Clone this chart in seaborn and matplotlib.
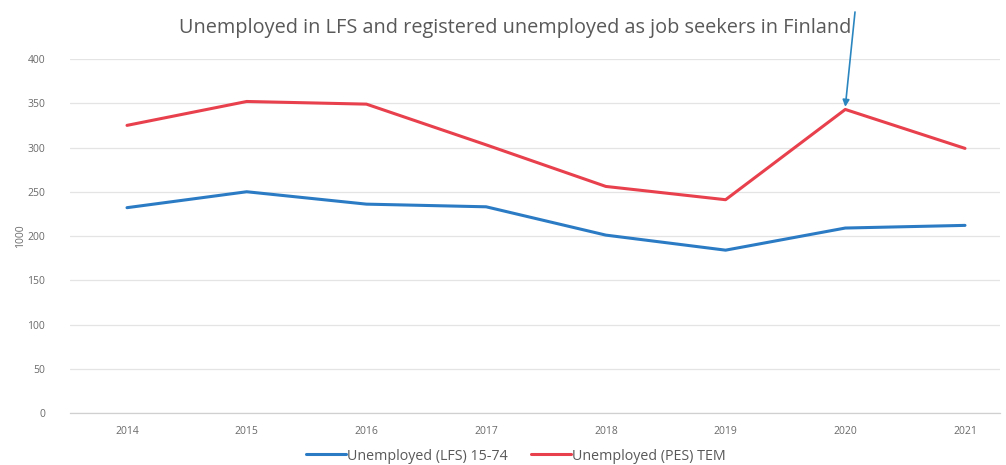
import matplotlib
matplotlib.use("Agg")
import matplotlib.pyplot as plt
import seaborn as sns
import pandas as pd

years = [2014, 2015, 2016, 2017, 2018, 2019, 2020, 2021]
lfs_unemployed = [232, 250, 236, 233, 201, 184, 209, 212]
pes_unemployed = [325, 352, 349, 303, 256, 241, 343, 299]
series_names = ["Unemployed (LFS) 15-74", "Unemployed (PES) TEM"]
y_ticks = [0, 50, 100, 150, 200, 250, 300, 350, 400]

df = pd.DataFrame({
    "year": years * 2,
    "value": lfs_unemployed + pes_unemployed,
    "series": [series_names[0]] * len(years) + [series_names[1]] * len(years),
})

sns.set_theme(style="white")
plt.rcParams["font.family"] = ["Open Sans", "DejaVu Sans"]

fig = plt.figure(figsize=(10.06, 4.65), dpi=100)
ax = fig.add_axes([70 / 1006, 52 / 465, 930 / 1006, (413 - 59) / 465])

palette = {series_names[0]: "#2b7bc4", series_names[1]: "#e8404c"}
sns.lineplot(data=df, x="year", y="value", hue="series", palette=palette,
             linewidth=2.2, ax=ax, legend=True)

ax.set_xlim(2014 - 57 / 119.7, 2021 + 35 / 119.7)
ax.set_ylim(0, 400)
ax.set_yticks(y_ticks)
ax.set_yticklabels([str(v) for v in y_ticks])
ax.set_xticks(years)
ax.set_xticklabels([str(y) for y in years])
ax.tick_params(axis="both", length=0, labelsize=7.5, colors="#6a6a6a")
ax.tick_params(axis="y", pad=18)
ax.tick_params(axis="x", pad=9)
ax.grid(axis="y", color="#e4e4e4", linewidth=0.9)
ax.set_axisbelow(True)
for side in ["top", "right", "left"]:
    ax.spines[side].set_visible(False)
ax.spines["bottom"].set_color("#d0d0d0")
ax.spines["bottom"].set_linewidth(0.9)

ax.set_xlabel("")
ax.set_ylabel("1000", fontsize=7.5, color="#6a6a6a", labelpad=1)

fig.text(515 / 1006, 1 - 28 / 465, "Unemployed in LFS and registered unemployed as job seekers in Finland",
         ha="center", va="center", fontsize=14.3, color="#595959")

# arrow pointing at the 2020 registered peak
ax.annotate("", xy=(2020, pes_unemployed[6] + 3),
            xytext=(855 / 1006, 1 - 12 / 465), textcoords="figure fraction",
            arrowprops=dict(arrowstyle="-|>", color="#2b86c0", lw=1.2,
                            mutation_scale=10, shrinkA=0, shrinkB=0))

leg = fig.legend(*ax.get_legend_handles_labels(), loc="center",
                 bbox_to_anchor=(516 / 1006, 1 - 456 / 465), ncol=2,
                 frameon=False, fontsize=10.3, handlelength=2.8, handletextpad=0.1,
                 columnspacing=1.6, borderaxespad=0, borderpad=0)
ax.get_legend().remove()
for txt in leg.get_texts():
    txt.set_color("#595959")

fig.savefig("out.png", dpi=100)
